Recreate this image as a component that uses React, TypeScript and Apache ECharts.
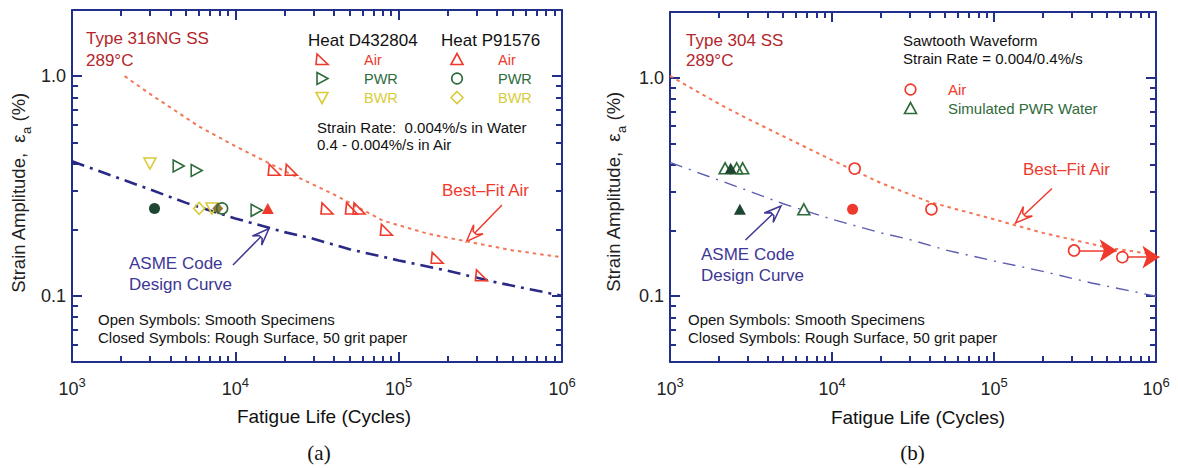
import React, { useEffect, useRef } from 'react';
import * as echarts from 'echarts';

// ---------- axis ranges (ticks: decades with 2..9 minor ticks, labels 10^3..10^6 and 0.1, 1.0) ----------
const xRange = [1e3, 1e6];
const yRange = [0.05, 2.0];

// ---------- panel (a): Type 316NG SS ----------
const asmeCurve: [number, number][] = [
  [1000, 0.41], [2000, 0.34], [3000, 0.305], [5000, 0.265], [10000, 0.225], [20000, 0.195],
  [30000, 0.182], [50000, 0.163], [100000, 0.145], [200000, 0.13], [400000, 0.115], [1000000, 0.1],
];
const bestFitAirA: [number, number][] = [
  [2100, 1.0], [3000, 0.83], [6000, 0.59], [10000, 0.48], [20000, 0.37], [40000, 0.29],
  [80000, 0.22], [150000, 0.192], [260000, 0.177], [500000, 0.161], [1000000, 0.15],
];
const d432804Air: [number, number][] = [
  [17300, 0.375], [22000, 0.375], [36400, 0.25], [51400, 0.25], [57200, 0.25], [84100, 0.2], [172000, 0.149], [321000, 0.124],
];
const d432804Pwr: [number, number][] = [[4500, 0.39], [5800, 0.372], [13500, 0.245]];
const d432804Bwr: [number, number][] = [[3000, 0.4], [7200, 0.25]];
const p91576AirClosed: [number, number][] = [[15800, 0.25]];
const p91576PwrOpen: [number, number][] = [[8300, 0.25]];
const p91576PwrClosed: [number, number][] = [[3200, 0.25]];
const p91576BwrOpen: [number, number][] = [[6000, 0.25]];
const p91576BwrClosed: [number, number][] = [[7800, 0.25]];

// ---------- panel (b): Type 304 SS ----------
const bestFitAirB: [number, number][] = [
  [1000, 1.02], [2000, 0.76], [3000, 0.65], [5000, 0.54], [10000, 0.42], [20000, 0.33],
  [40000, 0.27], [100000, 0.225], [200000, 0.195], [500000, 0.167], [1000000, 0.155],
];
const airOpenB: [number, number][] = [[13800, 0.384], [41100, 0.25], [312000, 0.162], [620000, 0.151]];
const airClosedB: [number, number][] = [[13400, 0.25]];
const pwrOpenB: [number, number][] = [[2190, 0.385], [2580, 0.385], [2810, 0.385], [6700, 0.25]];
const pwrClosedB: [number, number][] = [[2370, 0.385], [2700, 0.25]];
const runoutArrowsB: [number, number][][] = [
  [[312000, 0.162], [572000, 0.162]],
  [[620000, 0.151], [1050000, 0.151]],
];

const FONT = '"Liberation Sans", Arial, sans-serif';
const NAVY = '#22308c';
const RED = '#ee3a2c';
const FIT = '#f47656';
const GREEN = '#2f6b3b';
const YELLOW = '#d9cc3a';
const BROWN = '#96763a';
const DKGREEN = '#1f4630';
const TITLE = '#b3262b';
const ASMETXT = '#3d3795';

const SYM_RTRI = 'path://M1,0 L0,10 L11,10 Z';
const SYM_RIGHT = 'path://M0,0 L11,5.5 L0,11 Z';
const SYM_DOWN = 'path://M0,0 L12,0 L6,11 Z';

function isPow10(v: number) {
  const l = Math.log10(v);
  return Math.abs(l - Math.round(l)) < 1e-6;
}

function tickParts() {
  return {
    axisLine: { show: true, lineStyle: { color: NAVY, width: 2 } },
    axisTick: { show: true, inside: true, length: 10, lineStyle: { color: NAVY, width: 2 } },
    minorTick: { show: true, splitNumber: 9, length: 6, lineStyle: { color: NAVY, width: 2 } },
    splitLine: { show: false },
    minorSplitLine: { show: false },
  };
}

function xAxes(g: number) {
  return [
    {
      type: 'log', gridIndex: g, min: xRange[0], max: xRange[1], position: 'bottom', ...tickParts(),
      axisLabel: {
        show: true, margin: 14, showMinLabel: true, showMaxLabel: true,
        formatter: (v: number) => (isPow10(v) ? '{b|10}{s|' + Math.round(Math.log10(v)) + '}' : ''),
        rich: {
          b: { fontFamily: FONT, fontSize: 18, color: '#222', lineHeight: 22, verticalAlign: 'bottom' },
          s: { fontFamily: FONT, fontSize: 13, color: '#222', lineHeight: 13, verticalAlign: 'top' },
        },
      },
    },
    { type: 'log', gridIndex: g, min: xRange[0], max: xRange[1], position: 'top', ...tickParts(), axisLabel: { show: false } },
  ];
}

function yAxes(g: number) {
  return [
    {
      type: 'log', gridIndex: g, min: yRange[0], max: yRange[1], position: 'left', ...tickParts(),
      axisLabel: {
        show: true, margin: 6, fontFamily: FONT, fontSize: 18, color: '#222', showMinLabel: false, showMaxLabel: false,
        formatter: (v: number) => (isPow10(v) ? v.toFixed(1) : ''),
      },
    },
    { type: 'log', gridIndex: g, min: yRange[0], max: yRange[1], position: 'right', ...tickParts(), axisLabel: { show: false } },
  ];
}

function scatter(ax: number, data: [number, number][], symbol: string, size: any, color: string, filled: boolean, z = 5, fillOverride?: string) {
  return {
    type: 'scatter', xAxisIndex: ax, yAxisIndex: ax, data, symbol, symbolSize: size, z,
    itemStyle: {
      color: filled ? color : (fillOverride || 'rgba(255,255,255,0)'),
      borderColor: color, borderWidth: filled ? 0 : 1.6, opacity: 1,
    },
  };
}

function text(x: number, y: number, t: string, size: number, fill: string, align = 'left', family = FONT): any {
  return {
    type: 'text', x, y, silent: true,
    style: { text: t, fill, fontSize: size, fontFamily: family, align, verticalAlign: 'middle' },
  };
}

function openArrow(x1: number, y1: number, x2: number, y2: number, color: string): any[] {
  const dx = x2 - x1, dy = y2 - y1;
  const len = Math.hypot(dx, dy);
  const ux = dx / len, uy = dy / len, nx = -uy, ny = ux;
  const L = 17, W = 6.5, w = 2.2, k = 0.7;
  const p = (a: number, b: number) => [x2 - ux * a + nx * b, y2 - uy * a + ny * b];
  return [
    { type: 'line', silent: true, shape: { x1, y1, x2: x2 - ux * L * k, y2: y2 - uy * L * k }, style: { stroke: color, lineWidth: 1.5 } },
    {
      type: 'polygon', silent: true,
      shape: { points: [[x2, y2], p(L, W), p(L * k, w), p(L * k, -w), p(L, -W)] },
      style: { fill: '#fff', stroke: color, lineWidth: 1.5 },
    },
  ];
}

function poly(cx: number, cy: number, pts: number[][], stroke: string): any {
  return {
    type: 'polygon', silent: true,
    shape: { points: pts.map(([a, b]) => [cx + a, cy + b]) },
    style: { fill: 'none', stroke, lineWidth: 1.6 },
  };
}

function circ(cx: number, cy: number, r: number, stroke: string): any {
  return { type: 'circle', silent: true, shape: { cx, cy, r }, style: { fill: 'none', stroke, lineWidth: 1.6 } };
}

function yName(cx: number, cy: number): any {
  return {
    type: 'text', x: cx, y: cy, rotation: Math.PI / 2, silent: true,
    style: {
      text: '{a|Strain Amplitude,  ε}{s|a}{a| (%)}',
      align: 'center', verticalAlign: 'middle',
      rich: {
        a: { fontFamily: FONT, fontSize: 18.5, fill: '#222', color: '#222', lineHeight: 24, verticalAlign: 'top' },
        s: { fontFamily: FONT, fontSize: 13, fill: '#222', color: '#222', lineHeight: 24, verticalAlign: 'bottom' },
      },
    },
  };
}

export default function App() {
  const ref = useRef<HTMLDivElement>(null);
  useEffect(() => {
    if (!ref.current) return;
    const chart = echarts.init(ref.current, undefined, { renderer: 'svg' });

    const lineBase = { type: 'line', showSymbol: false, symbol: 'none', silent: true };

    const series: any[] = [
      // panel a
      { ...lineBase, xAxisIndex: 0, yAxisIndex: 0, data: asmeCurve, z: 2, lineStyle: { color: '#2a2a86', width: 2.6, type: [13, 6, 3, 6] } },
      { ...lineBase, xAxisIndex: 0, yAxisIndex: 0, data: bestFitAirA, z: 2, lineStyle: { color: FIT, width: 2, type: [3.5, 4] } },
      scatter(0, d432804Air, SYM_RTRI, [12, 11], RED, false),
      scatter(0, d432804Pwr, SYM_RIGHT, [11, 12], GREEN, false),
      scatter(0, d432804Bwr, SYM_DOWN, [12, 11], YELLOW, false),
      scatter(0, p91576BwrOpen, 'diamond', [11, 12], YELLOW, false),
      scatter(0, p91576BwrClosed, 'diamond', [11, 12], BROWN, true),
      scatter(0, p91576PwrOpen, 'circle', 11, GREEN, false),
      scatter(0, p91576PwrClosed, 'circle', 11, DKGREEN, true),
      scatter(0, p91576AirClosed, 'triangle', [12, 11], RED, true),
      // panel b
      { ...lineBase, xAxisIndex: 2, yAxisIndex: 2, data: asmeCurve, z: 2, lineStyle: { color: '#5c5cb0', width: 1.4, type: [13, 7, 2, 7] } },
      { ...lineBase, xAxisIndex: 2, yAxisIndex: 2, data: bestFitAirB, z: 2, lineStyle: { color: FIT, width: 2, type: [3.5, 4] } },
      {
        type: 'lines', coordinateSystem: 'cartesian2d', xAxisIndex: 2, yAxisIndex: 2, z: 3, clip: false, silent: true,
        symbol: ['none', 'arrow'], symbolSize: [11, 17],
        lineStyle: { color: RED, width: 1.6, opacity: 1, curveness: 0 },
        data: runoutArrowsB.map((c) => ({ coords: c })),
      },
      scatter(2, pwrOpenB, 'triangle', [12, 11], GREEN, false),
      scatter(2, pwrClosedB, 'triangle', [12, 11], DKGREEN, true),
      scatter(2, airOpenB, 'circle', 11, RED, false, 6, '#fff'),
      scatter(2, airClosedB, 'circle', 11, RED, true),
    ];

    const graphic: any[] = [
      // panel a texts
      text(86, 38, 'Type 316NG SS', 17, TITLE),
      text(86, 60, '289°C', 17, TITLE),
      text(308, 40, 'Heat D432804', 17, '#111'),
      text(441, 40, 'Heat P91576', 17, '#111'),
      text(364, 59.5, 'Air', 14.5, RED),
      text(364, 78.5, 'PWR', 14.5, GREEN),
      text(364, 97.5, 'BWR', 14.5, YELLOW),
      text(498, 59.5, 'Air', 14.5, RED),
      text(498, 78.5, 'PWR', 14.5, GREEN),
      text(498, 97.5, 'BWR', 14.5, YELLOW),
      poly(322, 59.5, [[-5, -5.5], [-6, 5], [6, 5]], RED),
      poly(322, 78.5, [[-5, -6], [6, 0], [-5, 6]], GREEN),
      poly(322, 97.5, [[-6, -5], [6, -5], [0, 6]], YELLOW),
      poly(457, 59.5, [[0, -6], [6, 5], [-6, 5]], RED),
      circ(457, 78.5, 5.3, GREEN),
      poly(457, 97.5, [[0, -6], [6, 0], [0, 6], [-6, 0]], YELLOW),
      text(317, 127, 'Strain Rate:  0.004%/s in Water', 15, '#111'),
      text(317, 144.5, '0.4 - 0.004%/s in Air', 15, '#111'),
      text(442, 190, 'Best–Fit Air', 17, RED),
      ...openArrow(502, 205, 466.5, 241.5, RED),
      text(129, 263.5, 'ASME Code', 17, ASMETXT),
      text(129, 284, 'Design Curve', 17, ASMETXT),
      ...openArrow(233, 265, 269, 228.5, ASMETXT),
      text(98, 319.5, 'Open Symbols: Smooth Specimens', 15, '#111'),
      text(98, 337, 'Closed Symbols: Rough Surface, 50 grit paper', 15, '#111'),
      text(324, 416, 'Fatigue Life (Cycles)', 19, '#111', 'center'),
      text(319, 453, '(a)', 21, '#111', 'center', '"Liberation Serif", "Times New Roman", serif'),
      yName(21, 193),
      // panel b texts
      text(686, 40, 'Type 304 SS', 17, TITLE),
      text(686, 60, '289°C', 17, TITLE),
      text(903, 40, 'Sawtooth Waveform', 15, '#111'),
      text(903, 58.5, 'Strain Rate = 0.004/0.4%/s', 15, '#111'),
      circ(910.5, 89.5, 5.3, RED),
      poly(910.5, 108.5, [[0, -6], [6, 5], [-6, 5]], GREEN),
      text(948, 89.5, 'Air', 15, RED),
      text(948, 108.5, 'Simulated PWR Water', 15, GREEN),
      text(1023, 169.5, 'Best–Fit Air', 17, RED),
      ...openArrow(1052, 188.5, 1015.5, 223, RED),
      text(701, 254, 'ASME Code', 17, ASMETXT),
      text(701, 275, 'Design Curve', 17, ASMETXT),
      ...openArrow(745.5, 240, 781, 206, ASMETXT),
      text(688, 319.5, 'Open Symbols: Smooth Specimens', 15, '#111'),
      text(688, 337, 'Closed Symbols: Rough Surface, 50 grit paper', 15, '#111'),
      text(918, 417, 'Fatigue Life (Cycles)', 19, '#111', 'center'),
      text(912.5, 453, '(b)', 21, '#111', 'center', '"Liberation Serif", "Times New Roman", serif'),
      yName(616, 192),
    ];

    chart.setOption({
      animation: false,
      grid: [
        { left: 72, top: 10, width: 490, height: 352 },
        { left: 670, top: 12, width: 486, height: 350 },
      ],
      xAxis: [...xAxes(0), ...xAxes(1)],
      yAxis: [...yAxes(0), ...yAxes(1)],
      series,
    });
    chart.setOption({ graphic });

    return () => chart.dispose();
  }, []);

  return (
    <div
      ref={ref}
      style={{ position: 'fixed', left: 0, top: 0, width: 1178, height: 468, background: '#fff' }}
    />
  );
}
